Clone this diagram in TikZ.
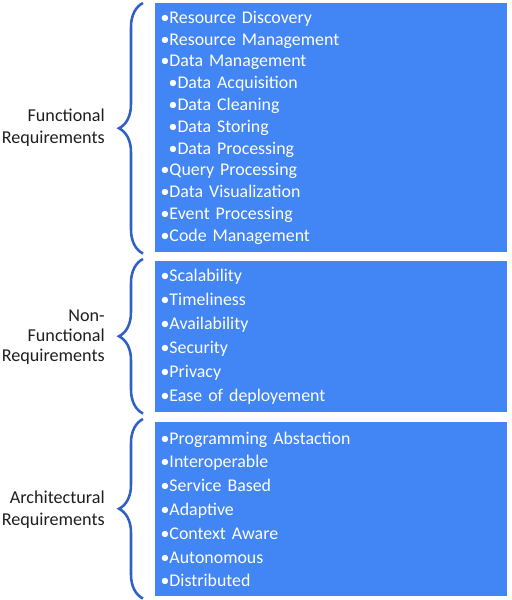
\documentclass[tikz,border=0pt]{standalone}
\usepackage{fontspec}
\setmainfont{Carlito}
\usetikzlibrary{decorations.pathreplacing}
\definecolor{boxblue}{RGB}{66,133,244}
\definecolor{braceblue}{RGB}{47,97,196}
\definecolor{labelgray}{RGB}{30,30,30}
\tikzset{
	reqbox/.style={fill=boxblue, text=white, anchor=north west, align=left,
		inner xsep=4pt, inner ysep=0pt, text width=256pt},
	reqbrace/.style={draw=braceblue, line width=1.9pt, decorate,
		decoration={brace, amplitude=18pt}},
	reqlabel/.style={anchor=east, align=right, inner sep=0pt, text=labelgray}
}
\newcommand{\subind}{\hspace*{6pt}}
\begin{document}
\begin{tikzpicture}[x=0.75pt, y=-0.75pt]
	\useasboundingbox (0,0) rectangle (511,600);
	% requirement lists
	\node[reqbox, minimum height=186.75pt, font=\fontsize{13.4}{16.35}\selectfont] (fun) at (155,3)
		{•Resource Discovery\\•Resource Management\\•Data Management\\
		\subind•Data Acquisition\\\subind•Data Cleaning\\\subind•Data Storing\\\subind•Data Processing\\
		•Query Processing\\•Data Visualization\\•Event Processing\\•Code Management};
	\node[reqbox, minimum height=113.25pt, font=\fontsize{13.4}{18}\selectfont] (nonfun) at (155,261)
		{•Scalability\\•Timeliness\\•Availability\\•Security\\•Privacy\\•Ease of deployement};
	\node[reqbox, minimum height=130.5pt, font=\fontsize{13.4}{17.85}\selectfont] (arch) at (155,422)
		{•Programming Abstaction\\•Interoperable\\•Service Based\\•Adaptive\\•Context Aware\\•Autonomous\\•Distributed};
	% braces
	\draw[reqbrace] ([xshift=-9pt, yshift=-0.75pt]fun.south west) -- ([xshift=-9pt]fun.north west);
	\draw[reqbrace] ([xshift=-9pt, yshift=-0.75pt]nonfun.south west) -- ([xshift=-9pt, yshift=1.5pt]nonfun.north west);
	\draw[reqbrace] ([xshift=-9pt, yshift=-1.5pt]arch.south west) -- ([xshift=-9pt, yshift=2.25pt]arch.north west);
	% labels
	\node[reqlabel, font=\fontsize{13.6}{16.5}\selectfont] (funlbl) at ([xshift=-37.5pt]fun.west) {Functional\\Requirements};
	\node[reqlabel, font=\fontsize{13.6}{15}\selectfont] (nonfunlbl) at ([xshift=-37.5pt]nonfun.west) {Non-\\Functional\\Requirements};
	\node[reqlabel, font=\fontsize{13.6}{16.5}\selectfont] (archlbl) at ([xshift=-37.5pt]arch.west) {Architectural\\Requirements};
\end{tikzpicture}
\end{document}
